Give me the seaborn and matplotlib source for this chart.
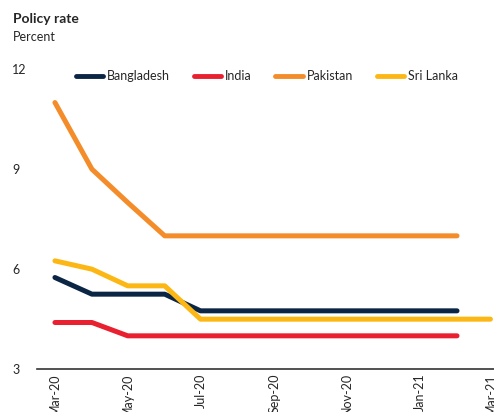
import numpy as np
import pandas as pd
import seaborn as sns
import matplotlib.pyplot as plt
import matplotlib.dates as mdates

# data (monthly, Mar-20 .. Mar-21)
months = pd.date_range('2020-03-01', periods=13, freq='MS')
bangladesh = [5.75, 5.25, 5.25, 5.25, 4.75, 4.75, 4.75, 4.75, 4.75, 4.75, 4.75, 4.75, np.nan]
india = [4.4, 4.4, 4.0, 4.0, 4.0, 4.0, 4.0, 4.0, 4.0, 4.0, 4.0, 4.0, np.nan]
pakistan = [11.0, 9.0, 8.0, 7.0, 7.0, 7.0, 7.0, 7.0, 7.0, 7.0, 7.0, 7.0, np.nan]
sri_lanka = [6.25, 6.0, 5.5, 5.5, 4.5, 4.5, 4.5, 4.5, 4.5, 4.5, 4.5, 4.5, 4.5]

countries = ['Bangladesh', 'India', 'Pakistan', 'Sri Lanka']
colors = ['#0b2545', '#e8202f', '#f48c2a', '#fdb714']

df = pd.DataFrame({'date': months, 'Bangladesh': bangladesh, 'India': india,
                   'Pakistan': pakistan, 'Sri Lanka': sri_lanka})
df = df.melt(id_vars='date', var_name='country', value_name='rate').dropna()

sns.set_style('white')
plt.rcParams['font.family'] = ['Lato', 'DejaVu Sans']

fig = plt.figure(figsize=(4.94, 4.12), dpi=100)
ax = fig.add_axes([0.075, 0.104, 0.925, 0.728])

sns.lineplot(data=df, x='date', y='rate', hue='country', hue_order=countries,
             palette=colors, linewidth=3.6, ax=ax)
for ln in ax.get_lines():
    ln.set_solid_capstyle('round')

ax.set_ylim(3, 12)
ax.set_yticks([3, 6, 9, 12])
ax.set_xlim(months[0] - pd.Timedelta(days=15), months[-1] + pd.Timedelta(days=3))
ax.set_xticks(months[::2])
ax.xaxis.set_major_formatter(mdates.DateFormatter('%b-%y'))
ax.tick_params(axis='x', labelrotation=90, labelsize=9, length=0, pad=3)
ax.tick_params(axis='y', labelsize=9, length=0, pad=18)
for lab in ax.get_yticklabels():
    lab.set_horizontalalignment('left')
ax.set_xlabel('')
ax.set_ylabel('')

sns.despine(ax=ax, left=True)
ax.spines['bottom'].set_color('#333333')
ax.spines['bottom'].set_linewidth(1.2)

handles, labels = ax.get_legend_handles_labels()
leg = ax.legend(handles, labels, ncol=4, frameon=False, loc='upper left',
                bbox_to_anchor=(0.06, 1.035), fontsize=9, handlelength=2.2,
                handletextpad=0.3, columnspacing=1.9)
for h in leg.get_lines():
    h.set_linewidth(3.5)
    h.set_solid_capstyle('round')

fig.text(0.026, 0.945, 'Policy rate', fontsize=10, fontweight='bold')
fig.text(0.026, 0.9, 'Percent', fontsize=9)

fig.savefig('out.png', dpi=100)
